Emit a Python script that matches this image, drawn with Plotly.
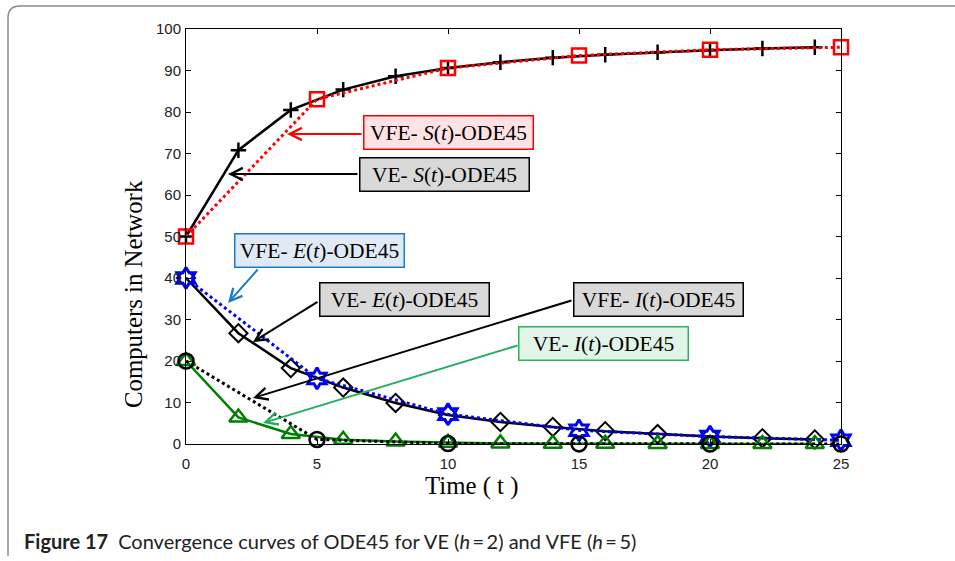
import plotly.graph_objects as go

# ---- data ----
t_ve = [0, 2, 4, 6, 8, 10, 12, 14, 16, 18, 20, 22, 24]        # VE step h = 2
t_vfe = [0, 5, 10, 15, 20, 25]                                # VFE step h = 5

S_ve = [50, 70.8, 80.5, 85.4, 88.6, 90.6, 92.0, 93.1, 93.8, 94.4, 94.9, 95.3, 95.6]
S_vfe = [50, 83.1, 90.6, 93.6, 95.0, 95.6]

E_ve = [40, 26.7, 18.3, 13.6, 9.9, 7.0, 5.3, 4.1, 3.1, 2.4, 1.8, 1.4, 1.1]
E_vfe = [40, 15.8, 7.2, 3.3, 1.8, 0.9]

I_ve = [20, 6.4, 2.4, 1.0, 0.6, 0.3, 0.15, 0.08, 0.05, 0.03, 0.02, 0.01, 0.01]
I_vfe = [20, 1.1, 0.1, 0.02, 0.0, 0.0]

x_ticks = [0, 5, 10, 15, 20, 25]
y_ticks = list(range(0, 101, 10))

# ---- geometry helpers (pixel -> axis / paper coordinates) ----
W, H = 955, 561
L, R, T, B = 186, 841, 29, 444


def tx(px):
    return (px - L) / (R - L) * 25


def vy(py):
    return (B - py) / (B - T) * 100


def paper_x(px):
    return (px - L) / (R - L)


def paper_y(py):
    return (B - py) / (B - T)


SERIF = "Liberation Serif, Times New Roman, serif"
SANS = "Liberation Sans, Arial, sans-serif"
GREEN = "#008000"
BLUE = "#0000ff"
RED = "#ff0000"

fig = go.Figure()

fig.add_trace(go.Scatter(
    x=t_ve, y=S_ve, mode="lines+markers", name="VE S",
    line=dict(color="black", width=2.5),
    marker=dict(symbol="cross-thin", size=11, line=dict(color="black", width=2.5)),
    cliponaxis=False))
fig.add_trace(go.Scatter(
    x=t_vfe, y=S_vfe, mode="lines+markers", name="VFE S",
    line=dict(color=RED, width=3, dash="dot"),
    marker=dict(symbol="square-open", size=14, color=RED, line=dict(color=RED, width=2.5)),
    cliponaxis=False))

fig.add_trace(go.Scatter(
    x=t_ve, y=E_ve, mode="lines+markers", name="VE E",
    line=dict(color="black", width=2.5),
    marker=dict(symbol="diamond-open", size=14, color="black", line=dict(color="black", width=2)),
    cliponaxis=False))
fig.add_trace(go.Scatter(
    x=t_vfe, y=E_vfe, mode="lines+markers", name="VFE E",
    line=dict(color=BLUE, width=3, dash="dot"),
    marker=dict(symbol="hexagram-open", size=16, color=BLUE, line=dict(color=BLUE, width=3)),
    cliponaxis=False))

fig.add_trace(go.Scatter(
    x=t_ve, y=I_ve, mode="lines+markers", name="VE I",
    line=dict(color=GREEN, width=2.5),
    marker=dict(symbol="triangle-up-open", size=16, color=GREEN, line=dict(color=GREEN, width=2.5)),
    cliponaxis=False))
fig.add_trace(go.Scatter(
    x=t_vfe, y=I_vfe, mode="lines+markers", name="VFE I",
    line=dict(color="black", width=3, dash="dot"),
    marker=dict(symbol="circle-open", size=15, color="black", line=dict(color="black", width=2.5)),
    cliponaxis=False))

# ---- labelled boxes and their arrows ----
boxes = [
    # (text, centre px, bg, border)
    ("VFE- <i>S</i>(<i>t</i>)-ODE45", (448.5, 132.5), "#fde3e3", RED),
    ("VE- <i>S</i>(<i>t</i>)-ODE45", (444.5, 174.5), "#d9d9d9", "black"),
    ("VFE- <i>E</i>(<i>t</i>)-ODE45", (319.5, 250.5), "#e0e9f6", "#1a7dc4"),
    ("VE- <i>E</i>(<i>t</i>)-ODE45", (404.0, 299.5), "#d9d9d9", "black"),
    ("VFE- <i>I</i>(<i>t</i>)-ODE45", (658.0, 299.5), "#d9d9d9", "black"),
    ("VE- <i>I</i>(<i>t</i>)-ODE45", (603.5, 343.5), "#e1f4e8", "#2db35f"),
]
arrows = [
    # (tail px, head px, colour)
    ((363, 134), (287, 134), RED),
    ((359, 174), (228, 174), "black"),
    ((259, 268), (228, 303), "#1a7dc4"),
    ((319, 301), (253, 342), "black"),
    ((573, 300), (253, 398), "black"),
    ((519, 345), (263, 423), "#22b060"),
]

annotations = []
for (tail, head, col) in arrows:
    annotations.append(dict(
        x=tx(head[0]), y=vy(head[1]), xref="x", yref="y",
        ax=tx(tail[0]), ay=vy(tail[1]), axref="x", ayref="y",
        text="", showarrow=True, arrowhead=5, arrowsize=1.2,
        arrowwidth=2, arrowcolor=col))

for (txt, c, bg, bc) in boxes:
    annotations.append(dict(
        x=tx(c[0]), y=vy(c[1]), xref="x", yref="y",
        xanchor="center", yanchor="middle",
        text=txt, showarrow=False, bgcolor=bg, bordercolor=bc,
        borderwidth=1.5, borderpad=1, width=166, height=30,
        font=dict(family=SERIF, size=21.5, color="black")))

# axis titles
annotations.append(dict(
    x=paper_x(471), y=paper_y(486), xref="paper", yref="paper",
    xanchor="center", yanchor="middle",
    text="Time ( t )", showarrow=False,
    font=dict(family=SERIF, size=24.8, color="black")))
annotations.append(dict(
    x=paper_x(133), y=paper_y(294), xref="paper", yref="paper",
    xanchor="center", yanchor="middle",
    text="Computers in Network", showarrow=False, textangle=-90,
    font=dict(family=SERIF, size=24.8, color="black")))

# caption
annotations.append(dict(
    x=paper_x(22), y=paper_y(541), xref="paper", yref="paper",
    xanchor="left", yanchor="middle",
    text="<b>Figure 17</b>\u2002Convergence curves of ODE45 for VE (<i>h</i>\u2009=\u20092) and VFE (<i>h</i>\u2009=\u20095)",
    showarrow=False,
    font=dict(family="Lato, Noto Sans, sans-serif", size=20, color="#222222")))

# outer frame with rounded top-left corner
r = 12
frame_path = (
    f"M {paper_x(W)},{paper_y(6)} L {paper_x(8 + r)},{paper_y(6)} "
    f"Q {paper_x(8)},{paper_y(6)} {paper_x(8)},{paper_y(6 + r)} "
    f"L {paper_x(8)},{paper_y(556)}"
)
shapes = [dict(type="path", xref="paper", yref="paper", path=frame_path,
               line=dict(color="#8a8a8a", width=1.5))]

axis_common = dict(
    showline=True, linecolor="black", linewidth=1, mirror="ticks",
    ticks="inside", ticklen=5, tickwidth=1, tickcolor="black",
    showgrid=False, zeroline=False,
    tickfont=dict(family=SANS, size=15, color="#222222"),
)

fig.update_layout(
    width=W, height=H,
    margin=dict(l=L, r=W - R, t=T, b=H - B),
    paper_bgcolor="white", plot_bgcolor="white",
    showlegend=False,
    xaxis=dict(range=[0, 25], tickvals=x_ticks, ticktext=[str(v) for v in x_ticks],
               ticklabelstandoff=6, **axis_common),
    yaxis=dict(range=[0, 100], tickvals=y_ticks, ticktext=[str(v) for v in y_ticks],
               ticklabelstandoff=1, **axis_common),
    annotations=annotations,
    shapes=shapes,
)

fig.write_html("out.html")
